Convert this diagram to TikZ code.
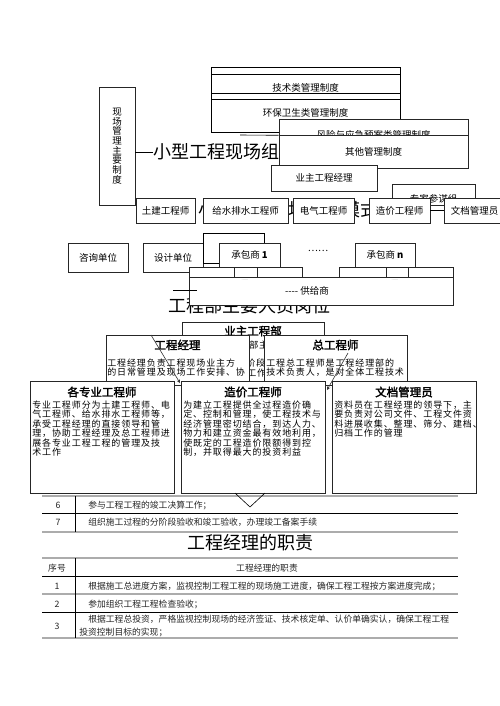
\documentclass[tikz,border=0pt]{standalone}
\usepackage{fontspec}
\setmainfont{Noto Sans CJK SC}
\newfontfamily\bodyfont[LetterSpace=10]{Noto Sans CJK SC}
\newfontfamily\boldfont[FakeBold=2]{Noto Sans CJK SC}
\usepackage{tikz}
\usetikzlibrary{arrows}
\tikzstyle{lbl} = [font=\fontsize{9.5}{11}\selectfont, inner sep=0pt]
\tikzstyle{box} = [rectangle, draw=black!85, fill=white, inner sep=0pt, text centered, font=\fontsize{9.5}{11}\selectfont]
\tikzstyle{card} = [rectangle, draw=black!85, fill=white, inner sep=0pt]
\tikzstyle{ttl} = [font=\boldfont\fontsize{11.5}{12}\selectfont, inner sep=0pt]
\tikzstyle{body} = [font=\bodyfont\fontsize{9}{9.5}\selectfont, align=left, inner sep=0pt, anchor=north west]
\tikzstyle{bigtitle} = [font=\fontsize{18}{18}\selectfont, inner sep=0pt]
\tikzstyle{cell} = [font=\fontsize{8.8}{10}\selectfont, inner sep=0pt, text=black!85]
\tikzstyle{rule} = [line width=1.2pt, draw=gray!65]
\tikzstyle{arrow} = [->, >=stealth, draw=black!80]

\begin{document}
\begin{tikzpicture}[x=1pt, y=-1pt, line width=0.6pt]
        \useasboundingbox[fill=white] (0,0) rectangle (500,706);

        % management rules
        \draw (211,67) rectangle (400,132);
        \draw (211,74) -- (400,74);
        \draw (211,93) -- (400,93);
        \draw (211,99) -- (400,99);
        \node[lbl] (jishu) at (305.5,88) {技术类管理制度};
        \node[lbl] (huanbao) at (305.5,113) {环保卫生类管理制度};

        \node[box, align=center, minimum width=36, minimum height=118, font=\fontsize{9.5}{9.7}\selectfont] (zhidu) at (117,146) {现\\场\\管\\理\\主\\要\\制\\度};
        \node[bigtitle, anchor=west] (title1) at (153,152) {小型工程现场组织模式};
        \draw (zhidu.east |- title1.west) -- (title1.west);

        \node[box, minimum width=189, minimum height=16] (fengxian) at (373.5,127) {};
        \node[lbl] at (373.5,134.5) {风险与应急预案类管理制度};
        \node[box, minimum width=189, minimum height=33] (qita) at (373.5,151.5) {其他管理制度};
        \draw (240,135) -- (fengxian.south west);

        \node[box, minimum width=106, minimum height=26] (yezhujl) at (324,178) {业主工程经理};
        \node[box, minimum width=83, minimum height=21] (zhuanjia) at (433.5,194.5) {};
        \node[lbl] at (433.5,199) {专家参谋组};

        % site staff
        \begin{scope}
            \clip (195,198) rectangle (203,223) (288,198) rectangle (293,223) (354,198) rectangle (369,223);
            \node[bigtitle] (title2) at (288,210) {小型工程现场组织模式};
        \end{scope}
        \node[box, minimum width=59, minimum height=25] (tujian) at (165.5,210.5) {土建工程师};
        \node[box, minimum width=85, minimum height=25] (geishui) at (245.5,210.5) {给水排水工程师};
        \node[box, minimum width=61, minimum height=25] (dianqi) at (323.5,210.5) {电气工程师};
        \node[box, minimum width=61, minimum height=25] (zaojia) at (399.5,210.5) {造价工程师};
        \node[box, minimum width=61, minimum height=25] (wendang) at (474.5,210.5) {文档管理员};
        \draw (zaojia) -- (wendang);

        % units
        \node[box, minimum width=60, minimum height=29] (zixun) at (98,257.5) {咨询单位};
        \node[box, minimum width=60, minimum height=29] (sheji) at (173,257.5) {设计单位};
        \draw (203,233) rectangle (264,263);
        \node[box, minimum width=61, minimum height=24] (cbs1) at (249.5,255) {承包商 \textbf{1}};
        \node[lbl] (dots) at (318,251) {……};
        \node[box, minimum width=60, minimum height=24] (cbsn) at (385,255) {承包商 \textbf{n}};
        \node[box, minimum width=45, minimum height=10] (s1) at (211.5,272) {};
        \node[box, minimum width=45, minimum height=10] (s2) at (279.5,272) {};
        \node[box, minimum width=47, minimum height=10] (s3) at (362.5,272) {};
        \node[box, minimum width=45, minimum height=10] (s4) at (430.5,272) {};

        \node[bigtitle] (title3) at (249.5,305.5) {工程部主要人员岗位};
        \node[box, minimum width=264, minimum height=28] (gongji) at (321,291) {};
        \node[lbl] at (307,291) {{-}{-}{-}{-} 供给商};
        \node[font=\fontsize{4}{4}\selectfont, text=gray, inner sep=0pt] at (245,280) {......};
        \node[font=\fontsize{4}{4}\selectfont, text=gray, inner sep=0pt] at (395,280) {......};
        \draw (173,290) -- (197,290);

        % posts
        \node[card, minimum width=142, minimum height=60] (yzgcb) at (253,352) {};
        \node[ttl] at (253,331) {业主工程部};
        \node[body, anchor=west] at (249,345) {部主};
        \node[body, anchor=west] at (246,363) {阶段};
        \node[body, anchor=west] at (247,373) {工作};

        \node[card, minimum width=143, minimum height=50] (gcjl) at (177.5,360) {};
        \node[ttl] at (177.5,345) {工程经理};
        \node[body] at (107,358.5) {工程经理负责工程现场业主方\\的日常管理及现场工作安排、协};

        \node[card, minimum width=143, minimum height=50] (zgcs) at (335.5,360) {};
        \node[ttl] at (335.5,345) {总工程师};
        \node[body] at (266,358.5) {工程总工程师是工程经理部的\\技术负责人，是对全体工程技术};

        \coordinate (a1s) at (151,335);
        \coordinate (a1e) at (180,383);
        \coordinate (a2s) at (348,353);
        \coordinate (a2e) at (327,390);
        \draw [arrow] (a1s) -- (a1e);
        \draw [arrow] (a2s) -- (a2e);

        % duties table, rows 6-7
        \draw[rule] (42,496) -- (458,496);
        \draw (42,513) -- (458,513);
        \draw[rule] (42,532) -- (458,532);
        \draw (75,496) -- (75,532);
        \node[cell] at (58,505) {6};
        \node[cell, anchor=west] at (88,505) {参与工程工程的竣工决算工作；};
        \node[cell] at (58,522) {7};
        \node[cell, anchor=west] at (88,522) {组织施工过程的分阶段验收和竣工验收，办理竣工备案手续};

        \node[card, minimum width=144, minimum height=112] (gzy) at (102,437) {};
        \node[ttl] at (102,392) {各专业工程师};
        \node[body] at (32,400.5) {专业工程师分为土建工程师、电\\气工程师、给水排水工程师等，\\承受工程经理的直接领导和管\\理，协助工程经理及总工程师进\\展各专业工程工程的管理及技\\术工作};

        \node[card, minimum width=144, minimum height=112] (zjgcs) at (253,437) {};
        \node[ttl] at (253,392) {造价工程师};
        \node[body] at (183,400.5) {为建立工程提供全过程造价确\\定、控制和管理，使工程技术与\\经济管理密切结合，到达人力、\\物力和建立资金最有效地利用，\\使既定的工程造价限额得到控\\制，并取得最大的投资利益};

        \node[card, minimum width=144, minimum height=112] (wdgly) at (404,437) {};
        \node[ttl] at (404,392) {文档管理员};
        \node[body] at (334,400.5) {资料员在工程经理的领导下，主\\要负责对公司文件、工程文件资\\料进展收集、整理、筛分、建档、\\归档工作的管理};

        \draw (235,493) -- (250,507) -- (265,493);

        % manager duties
        \node[bigtitle] (title4) at (250,543) {工程经理的职责};
        \draw[rule] (42,558) -- (458,558);
        \draw (42,576) -- (458,576);
        \draw[rule] (42,594) -- (458,594);
        \draw (42,612) -- (458,612);
        \draw[rule] (42,638) -- (458,638);
        \draw (75,558) -- (75,638);
        \node[cell] at (57,568) {序号};
        \node[cell] at (267,568) {工程经理的职责};
        \node[cell] at (57,586) {1};
        \node[cell, anchor=west] at (88,586) {根据施工总进度方案，监视控制工程工程的现场施工进度，确保工程工程按方案进度完成；};
        \node[cell] at (57,604) {2};
        \node[cell, anchor=west] at (88,604) {参加组织工程工程检查验收；};
        \node[cell] at (57,626) {3};
        \node[cell, anchor=west] at (88,619) {根据工程总投资，严格监视控制现场的经济签证、技术核定单、认价单确实认，确保工程工程};
        \node[cell, anchor=west] at (79,632) {投资控制目标的实现；};
    \end{tikzpicture}
\end{document}
